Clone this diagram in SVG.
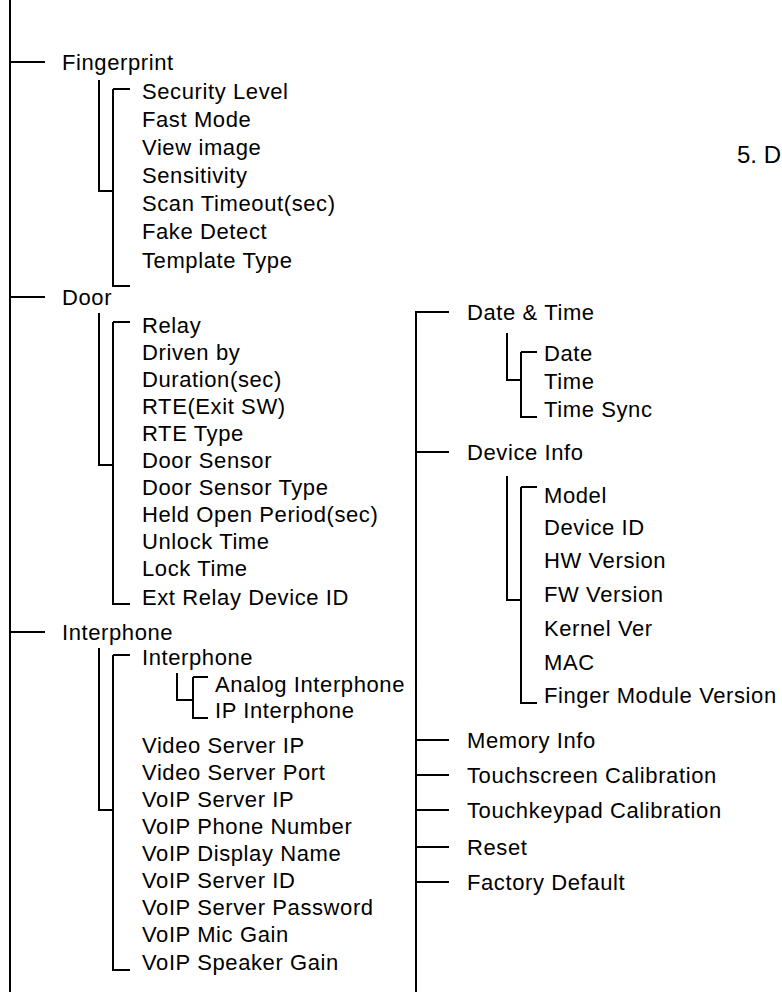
<svg xmlns="http://www.w3.org/2000/svg" width="782" height="992" viewBox="0 0 782 992">
<style>
text{font-family:"Liberation Sans",Arial,sans-serif;font-size:22px;letter-spacing:0.6px;fill:#000}
.t{font-size:24px;letter-spacing:0}
.c{fill:none;stroke:#000;stroke-width:2}
</style>
<rect width="782" height="992" fill="#fff"/>
<g id="connectors" class="c">
<path d="M10 0V992"/>
<path d="M10 62H45M10 297H45M10 632H45"/>
<path d="M99 80V191H113M113 89H130M113 89V286H130"/>
<path d="M99 313V465H113M113 322H130M113 322V604H130"/>
<path d="M99 648V810H113M113 655H130M113 655V970H130"/>
<path d="M177 673V700H193M193 677H208M193 677V718H208"/>
<path d="M416 992V312H449M416 452H449M416 740H449M416 775H449M416 810H449M416 847H449M416 882H449"/>
<path d="M507 333V380H521M521 352H537M521 352V417H537"/>
<path d="M507 476V600H521M521 487H537M521 487V703H537"/>
</g>
<g id="title"><text class="t" x="737" y="163">5. D</text></g>
<g id="fingerprint"><text x="62" y="70">Fingerprint</text>
<text x="142" y="99">Security Level</text>
<text x="142" y="127">Fast Mode</text>
<text x="142" y="155">View image</text>
<text x="142" y="183">Sensitivity</text>
<text x="142" y="211">Scan Timeout(sec)</text>
<text x="142" y="239">Fake Detect</text>
<text x="142" y="268">Template Type</text></g>
<g id="door"><text x="62" y="305">Door</text>
<text x="142" y="333">Relay</text>
<text x="142" y="360">Driven by</text>
<text x="142" y="387">Duration(sec)</text>
<text x="142" y="414">RTE(Exit SW)</text>
<text x="142" y="441">RTE Type</text>
<text x="142" y="468">Door Sensor</text>
<text x="142" y="495">Door Sensor Type</text>
<text x="142" y="522">Held Open Period(sec)</text>
<text x="142" y="549">Unlock Time</text>
<text x="142" y="576">Lock Time</text>
<text x="142" y="605">Ext Relay Device ID</text></g>
<g id="interphone"><text x="62" y="640">Interphone</text>
<text x="142" y="665">Interphone</text>
<text x="215" y="692">Analog Interphone</text>
<text x="215" y="718">IP Interphone</text>
<text x="142" y="753">Video Server IP</text>
<text x="142" y="780">Video Server Port</text>
<text x="142" y="807">VoIP Server IP</text>
<text x="142" y="834">VoIP Phone Number</text>
<text x="142" y="861">VoIP Display Name</text>
<text x="142" y="888">VoIP Server ID</text>
<text x="142" y="915">VoIP Server Password</text>
<text x="142" y="942">VoIP Mic Gain</text>
<text x="142" y="970">VoIP Speaker Gain</text></g>
<g id="datetime"><text x="467" y="320">Date &amp; Time</text>
<text x="544" y="361">Date</text>
<text x="544" y="389">Time</text>
<text x="544" y="417">Time Sync</text></g>
<g id="deviceinfo"><text x="467" y="460">Device Info</text>
<text x="544" y="503">Model</text>
<text x="544" y="535">Device ID</text>
<text x="544" y="568">HW Version</text>
<text x="544" y="602">FW Version</text>
<text x="544" y="636">Kernel Ver</text>
<text x="544" y="670">MAC</text>
<text x="544" y="703">Finger Module Version</text></g>
<g id="memory"><text x="467" y="748">Memory Info</text></g>
<g id="touchscreen"><text x="467" y="783">Touchscreen Calibration</text></g>
<g id="touchkeypad"><text x="467" y="818">Touchkeypad Calibration</text></g>
<g id="reset"><text x="467" y="855">Reset</text></g>
<g id="factory"><text x="467" y="890">Factory Default</text></g>
</svg>
